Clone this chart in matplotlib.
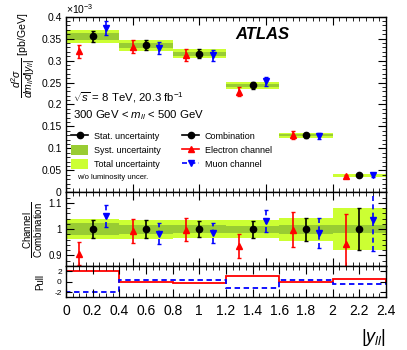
import numpy as np
import matplotlib
matplotlib.use("Agg")
import matplotlib.pyplot as plt
from matplotlib.lines import Line2D
from matplotlib.patches import Patch
from matplotlib.ticker import MultipleLocator

plt.rcParams['font.family'] = ['Liberation Sans', 'DejaVu Sans']
plt.rcParams['mathtext.fontset'] = 'custom'
plt.rcParams['mathtext.rm'] = 'Liberation Sans'
plt.rcParams['mathtext.it'] = 'Liberation Sans:italic'

# bins in |y_ll|
bin_edges = [0.0, 0.4, 0.8, 1.2, 1.6, 2.0, 2.4]

# cross-section values (x 1e-3 pb/GeV)
comb_vals = [0.355, 0.335, 0.316, 0.244, 0.130, 0.039]
elec_vals = [0.321, 0.332, 0.313, 0.229, 0.130, 0.036]
muon_vals = [0.374, 0.329, 0.312, 0.253, 0.128, 0.040]

# relative uncertainties of combination
comb_stat = [0.033, 0.033, 0.030, 0.032, 0.044, 0.080]
comb_syst = [0.024, 0.017, 0.014, 0.013, 0.017, 0.014]
comb_total = [0.039, 0.036, 0.033, 0.033, 0.044, 0.081]

# channel / combination ratios and their errors
elec_ratio = [0.907, 0.993, 0.998, 0.936, 0.998, 0.945]
elec_ratio_err = [0.045, 0.044, 0.044, 0.046, 0.067, 0.113]
muon_ratio = [1.051, 0.983, 0.986, 1.031, 0.986, 1.035]
muon_ratio_err = [0.042, 0.040, 0.039, 0.042, 0.056, 0.118]

# pulls
elec_pull = [2.05, -0.15, -0.2, 1.1, -0.05, 0.5]
muon_pull = [-2.0, 0.25, 0.25, -1.2, 0.25, -0.5]

dark_green = '#99cc33'
light_green = '#ccff33'

edges = np.array(bin_edges)
lo = edges[:-1]
hi = edges[1:]
mid = 0.5 * (lo + hi)
comb = np.array(comb_vals)

fig = plt.figure(figsize=(4.07, 3.5), dpi=100)
ax1 = fig.add_axes([0.1622, 0.4506, 0.786, 0.5017])
ax2 = fig.add_axes([0.1622, 0.2400, 0.786, 0.2106])
ax3 = fig.add_axes([0.1622, 0.1506, 0.786, 0.0894])


def bands(ax, center, scale):
    for i in range(len(lo)):
        t = comb_total[i] * scale[i]
        s = comb_syst[i] * scale[i]
        ax.fill_between([lo[i], hi[i]], center[i] - t, center[i] + t, color=light_green, lw=0)
        ax.fill_between([lo[i], hi[i]], center[i] - s, center[i] + s, color=dark_green, lw=0)


def points(ax, comb_y, comb_err, e_y, e_err, m_y, m_err):
    ax.errorbar(mid, comb_y, yerr=comb_err, fmt='o', color='black', ms=4.5,
                elinewidth=1.2, capsize=1.5)
    ax.errorbar(mid - 0.1, e_y, yerr=e_err, fmt='^', color='red', ms=4.5,
                elinewidth=1.2, capsize=1.5)
    eb = ax.errorbar(mid + 0.1, m_y, yerr=m_err, fmt='v', color='blue', ms=4.5,
                     elinewidth=1.2, capsize=1.5)
    eb[2][0].set_linestyle((0, (3, 2)))


# top panel
bands(ax1, comb, comb)
points(ax1, comb, comb * np.array(comb_stat),
       elec_vals, np.array(elec_vals) * np.array(elec_ratio_err),
       muon_vals, np.array(muon_vals) * np.array(muon_ratio_err))

ax1.set_xlim(0, 2.4)
ax1.set_ylim(0, 0.4)
ax1.set_xticklabels([])
ax1.yaxis.set_minor_locator(MultipleLocator(0.01))
ax1.set_yticks([0, 0.05, 0.1, 0.15, 0.2, 0.25, 0.3, 0.35, 0.4])
ax1.set_yticklabels(['0', '0.05', '0.1', '0.15', '0.2', '0.25', '0.3', '0.35', '0.4'])
ax1.text(0.0, 1.003, r'$\times10^{-3}$', transform=ax1.transAxes, fontsize=7.5, ha='left', va='bottom')
ax1.set_ylabel(r'$\dfrac{d^2\sigma}{dm_{ll}d|y_{ll}|}$ [pb/GeV]', fontsize=7.6)
ax1.yaxis.set_label_coords(-0.09, 0.78)

ax1.text(0.53, 0.9, 'ATLAS', transform=ax1.transAxes, fontsize=12, fontweight='bold',
         style='italic', ha='left', va='center')
ax1.text(0.022, 0.54, r'$\sqrt{s}$ = 8 TeV, 20.3 fb$^{-1}$', transform=ax1.transAxes,
         fontsize=8.2, ha='left', va='center')
ax1.text(0.022, 0.44, r'300 GeV < $m_{ll}$ < 500 GeV', transform=ax1.transAxes,
         fontsize=8.2, ha='left', va='center')

handles = [
    Line2D([], [], color='black', marker='o', ms=4.5, lw=1.2),
    Patch(facecolor=dark_green, edgecolor='none'),
    Patch(facecolor=light_green, edgecolor='none'),
    Line2D([], [], color='black', marker='o', ms=4.5, lw=1.2),
    Line2D([], [], color='red', marker='^', ms=4.5, lw=1.2),
    Line2D([], [], color='blue', marker='v', ms=4.5, lw=1.2, ls=(0, (3, 2))),
]
labels = ['Stat. uncertainty', 'Syst. uncertainty', 'Total uncertainty',
          'Combination', 'Electron channel', 'Muon channel']
ax1.legend(handles, labels, ncol=2, loc='upper left', bbox_to_anchor=(0.0, 0.38),
           frameon=False, fontsize=6.5, handlelength=1.8, handleheight=1.3,
           columnspacing=2.4, labelspacing=0.45, handletextpad=0.7, borderaxespad=0.2)
ax1.text(0.035, 0.085, 'w/o luminosity uncer.', transform=ax1.transAxes, fontsize=5.5,
         ha='left', va='center')

# ratio panel
ones = np.ones(len(lo))
bands(ax2, ones, ones)
points(ax2, ones, comb_stat, elec_ratio, elec_ratio_err, muon_ratio, muon_ratio_err)
ax2.set_xlim(0, 2.4)
ax2.set_ylim(0.86, 1.14)
ax2.set_xticklabels([])
ax2.set_yticks([0.9, 1.0, 1.1])
ax2.set_yticklabels(['0.9', '1', '1.1'])
ax2.yaxis.set_minor_locator(MultipleLocator(0.02))
ax2.set_ylabel(r'$\dfrac{\mathrm{Channel}}{\mathrm{Combination}}$', fontsize=7)
ax2.yaxis.set_label_coords(-0.065, 0.5)

# pull panel
ax3.stairs(elec_pull, edges, color='red', lw=1.3)
ax3.stairs(muon_pull, edges, color='blue', lw=1.3, ls=(0, (3, 2)))
ax3.set_xlim(0, 2.4)
ax3.set_ylim(-3, 3)
ax3.set_yticks([-2, 0, 2])
ax3.set_yticklabels(['-2', '0', '2'], fontsize=6)
ax3.set_ylabel('Pull', fontsize=7)
ax3.yaxis.set_label_coords(-0.065, 0.5)
ax3.set_xticks([0, 0.2, 0.4, 0.6, 0.8, 1.0, 1.2, 1.4, 1.6, 1.8, 2.0, 2.2, 2.4])
ax3.set_xticklabels(['0', '0.2', '0.4', '0.6', '0.8', '1', '1.2', '1.4', '1.6', '1.8',
                     '2', '2.2', '2.4'], fontsize=10)
ax3.set_xlabel(r'$|y_{ll}|$', fontsize=13, loc='right', labelpad=6)

for ax in (ax1, ax2, ax3):
    ax.xaxis.set_minor_locator(MultipleLocator(0.05))
    ax.tick_params(which='both', direction='in', top=True, right=True)
    ax.tick_params(which='major', length=6)
    ax.tick_params(which='minor', length=3)
    for sp in ax.spines.values():
        sp.set_linewidth(1.0)
ax1.tick_params(axis='y', labelsize=7.5, pad=3)
ax2.tick_params(axis='y', labelsize=7, pad=3)
ax3.tick_params(axis='y', which='major', length=4, pad=3)
ax3.tick_params(axis='x', pad=5)

fig.savefig('out.png', dpi=100)
